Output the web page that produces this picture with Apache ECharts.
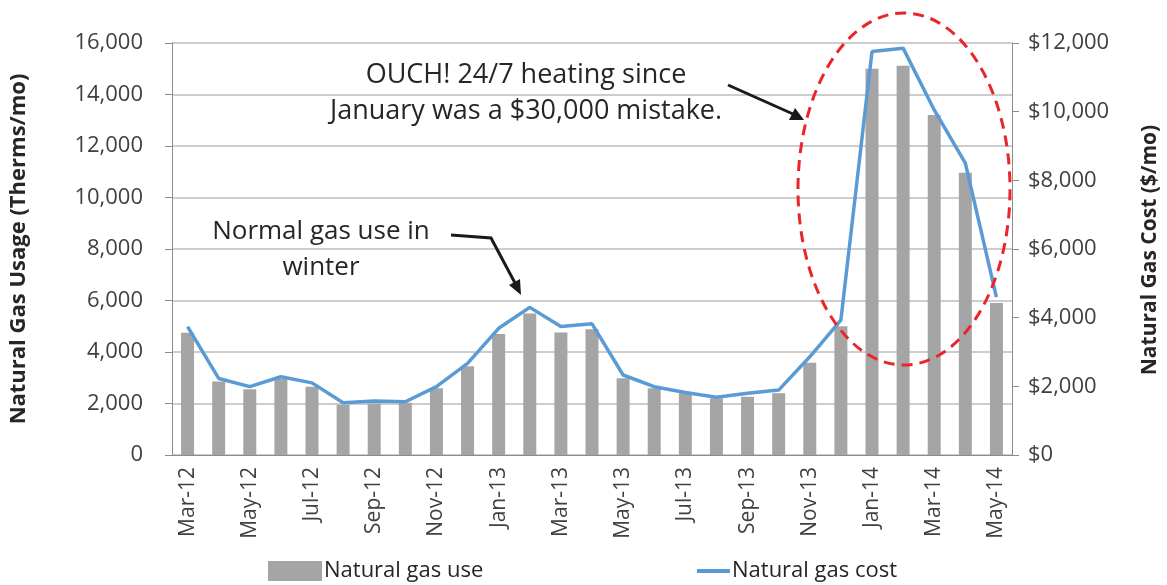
<!DOCTYPE html>
<html>
<head>
<meta charset="utf-8">
<script src="https://cdn.jsdelivr.net/npm/echarts@6/dist/echarts.min.js"></script>
<style>
  html, body { margin: 0; padding: 0; background: #fff; }
  #chart { width: 1167px; height: 585px; }
</style>
</head>
<body>
<div id="chart"></div>
<script>
// month labels
const months = ['Mar-12','Apr-12','May-12','Jun-12','Jul-12','Aug-12','Sep-12','Oct-12','Nov-12','Dec-12',
  'Jan-13','Feb-13','Mar-13','Apr-13','May-13','Jun-13','Jul-13','Aug-13','Sep-13','Oct-13','Nov-13','Dec-13',
  'Jan-14','Feb-14','Mar-14','Apr-14','May-14'];
// therms per month (bars)
const gasUse = [4750, 2850, 2550, 2950, 2650, 1950, 2000, 2030, 2590, 3450,
  4700, 5500, 4760, 4880, 2980, 2590, 2400, 2200, 2260, 2400, 3580, 5000,
  15000, 15120, 13200, 10960, 5900];
// dollars per month (line)
const gasCost = [3740, 2230, 1990, 2280, 2100, 1520, 1570, 1550, 1990, 2670,
  3690, 4300, 3740, 3820, 2330, 1990, 1820, 1680, 1800, 1890, 2860, 3930,
  11750, 11850, 10050, 8500, 4600];

const FONT = '"Open Sans", Lato, sans-serif';
const chart = echarts.init(document.getElementById('chart'));

const option = {
  animation: false,
  backgroundColor: '#fff',
  grid: { left: 167, right: 155, top: 43, bottom: 130 },
  legend: [
    {
      data: [{ name: 'Natural gas use', icon: 'rect' }],
      left: 268, top: 560, padding: 0, itemWidth: 54, itemHeight: 20, itemGap: 4,
      textStyle: { fontFamily: FONT, fontSize: 22, color: '#262626', padding: [0, 0, 0, -3] }
    },
    {
      data: [{ name: 'Natural gas cost', icon: 'rect' }],
      left: 697, top: 560, padding: 0, itemWidth: 33, itemHeight: 4, itemGap: 4,
      textStyle: { fontFamily: FONT, fontSize: 22, color: '#262626', padding: [0, 0, 0, -3] }
    }
  ],
  xAxis: {
    type: 'category',
    data: months,
    axisLine: { lineStyle: { color: '#8c8c8c', width: 1 } },
    axisTick: { interval: 1, length: 7, lineStyle: { color: '#8c8c8c' } },
    axisLabel: {
      interval: 1, rotate: 90, margin: 12,
      fontFamily: FONT, fontSize: 21, color: '#404040'
    }
  },
  yAxis: [
    {
      type: 'value', min: 0, max: 16000, interval: 2000,
      name: 'Natural Gas Usage (Therms/mo)', nameLocation: 'middle', nameGap: 142,
      nameTextStyle: { fontFamily: FONT, fontSize: 22, fontWeight: 'bold', color: '#262626' },
      axisLine: { show: true, lineStyle: { color: '#8c8c8c' } },
      axisTick: { show: true, length: 7, inside: false, lineStyle: { color: '#8c8c8c' } },
      axisLabel: {
        margin: 29, fontFamily: FONT, fontSize: 22, color: '#404040',
        formatter: v => v.toLocaleString('en-US')
      },
      splitLine: { lineStyle: { color: '#bcbcbc', width: 1.5 } }
    },
    {
      type: 'value', min: 0, max: 12000, interval: 2000,
      axisLine: { show: true, lineStyle: { color: '#8c8c8c' } },
      axisTick: { show: true, length: 7, lineStyle: { color: '#8c8c8c' } },
      axisLabel: {
        margin: 16, fontFamily: FONT, fontSize: 22, color: '#404040',
        formatter: v => '$' + v.toLocaleString('en-US')
      },
      splitLine: { show: false }
    }
  ],
  series: [
    {
      name: 'Natural gas use',
      type: 'bar',
      data: gasUse,
      barWidth: 13,
      itemStyle: { color: '#a5a5a5' }
    },
    {
      name: 'Natural gas cost',
      type: 'line',
      yAxisIndex: 1,
      data: gasCost,
      symbol: 'none',
      lineStyle: { color: '#5b9bd5', width: 3.5 },
      itemStyle: { color: '#5b9bd5' }
    }
  ],
  graphic: [
    // right axis title
    {
      type: 'text', z: 100, x: 1150, y: 250, rotation: Math.PI / 2,
      style: { text: 'Natural Gas Cost ($/mo)', x: 0, y: 0, textAlign: 'center', textVerticalAlign: 'middle',
        font: 'bold 21px ' + FONT, fill: '#262626' }
    },
    {
      type: 'ellipse', z: 100,
      shape: { cx: 904, cy: 189, rx: 106, ry: 176 },
      style: { fill: null, stroke: '#e8262a', lineWidth: 3, lineDash: [11, 7] }
    },
    {
      type: 'text', z: 100,
      style: { text: 'OUCH! 24/7 heating since', x: 526, y: 75, textAlign: 'center', textVerticalAlign: 'middle',
        font: '27px ' + FONT, fill: '#262626' }
    },
    {
      type: 'text', z: 100,
      style: { text: 'January was a $30,000 mistake.', x: 526, y: 111, textAlign: 'center', textVerticalAlign: 'middle',
        font: '27px ' + FONT, fill: '#262626' }
    },
    {
      type: 'text', z: 100,
      style: { text: 'Normal gas use in', x: 321, y: 232, textAlign: 'center', textVerticalAlign: 'middle',
        font: '26px ' + FONT, fill: '#262626' }
    },
    {
      type: 'text', z: 100,
      style: { text: 'winter', x: 321, y: 268, textAlign: 'center', textVerticalAlign: 'middle',
        font: '26px ' + FONT, fill: '#262626' }
    },
    // arrow to the winter peak
    {
      type: 'polyline', z: 100,
      shape: { points: [[451, 235], [491, 238], [515, 283]] },
      style: { stroke: '#1a1a1a', lineWidth: 3, fill: null }
    },
    {
      type: 'polygon', z: 100,
      shape: { points: [[521, 295], [509, 285], [520, 279]] },
      style: { fill: '#1a1a1a' }
    },
    // arrow to the ellipse
    {
      type: 'line', z: 100,
      shape: { x1: 728, y1: 85, x2: 793, y2: 114 },
      style: { stroke: '#1a1a1a', lineWidth: 3 }
    },
    {
      type: 'polygon', z: 100,
      shape: { points: [[804, 120], [789, 120], [795, 108]] },
      style: { fill: '#1a1a1a' }
    }
  ]
};

chart.setOption(option);
</script>
</body>
</html>
